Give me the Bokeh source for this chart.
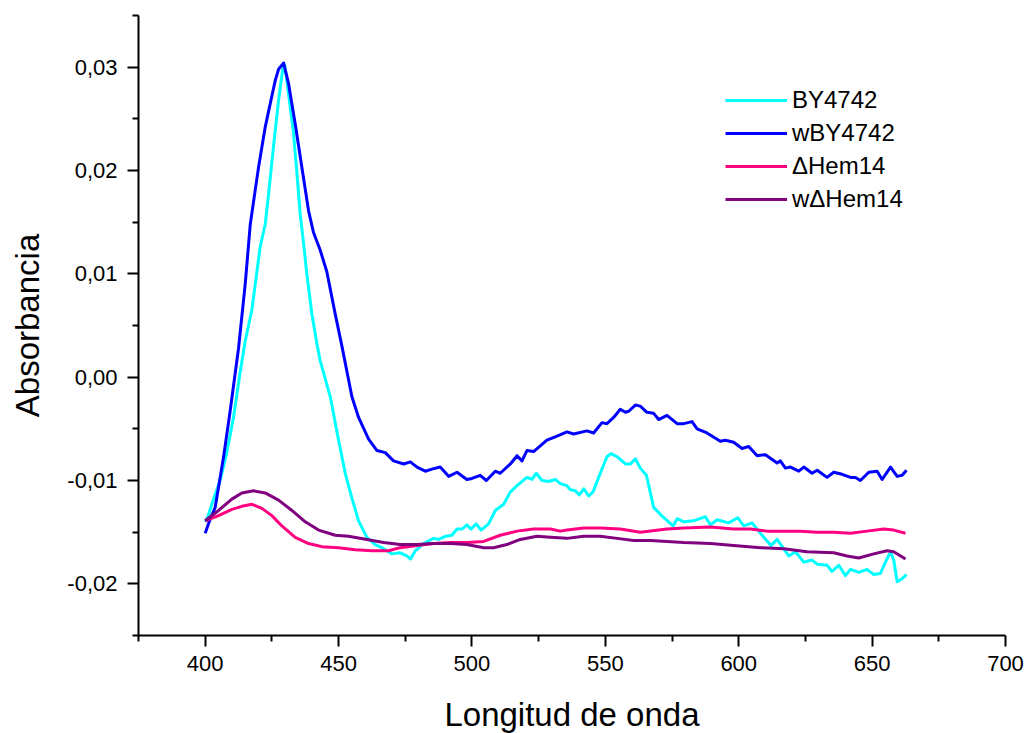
from bokeh.plotting import figure
from bokeh.models import Range1d, FixedTicker, CustomJSTickFormatter, Legend, LegendItem
from bokeh.embed import file_html
from bokeh.resources import INLINE

# ---- data ----
by_x = [400, 401, 403, 405.6, 408, 410.6, 413, 415, 417.5, 420.6, 422.5, 423.75, 425.6, 427.5, 429, 429.8,
        431.25, 433, 434.4, 435.6, 436.9, 438.1, 440, 441.9, 443.1, 446.9, 450, 452.5, 455, 457.5, 460.6,
        463.75, 466.9, 470, 473.1, 475.6, 477, 478.75, 481.9, 485.6, 487.5, 490, 492.5, 494.4, 496.25,
        498.1, 499.6, 501.6, 503.4, 506.25, 508.75, 511.9, 514.4, 516.9, 520.6, 522.5, 524.1, 526.25,
        528.75, 531.25, 533.1, 535.6, 536.9, 538.75, 540.25, 541.9, 543.75, 545.4, 548.1, 550.6, 552.1,
        554.4, 557.5, 559.4, 561.25, 563.1, 565.4, 568.1, 571.9, 575.4, 576.9, 579.4, 583.1, 587.5, 589.4,
        591.9, 596.25, 599.6, 601.9, 605, 608.75, 612.1, 614.4, 618.75, 621.25, 624.4, 627.5, 629.4, 633.1,
        635, 637.5, 640, 641.9, 645, 648.1, 650.6, 653.1, 655, 656.9, 658.1, 659.4, 661.25, 662.9]
by_y = [-0.0140, -0.0135, -0.0119, -0.0100, -0.0074, -0.0039, 0.0003, 0.0035, 0.0065, 0.0126, 0.0148, 0.0177,
        0.0223, 0.0268, 0.0297, 0.0302, 0.0274, 0.0239, 0.0197, 0.0158, 0.0129, 0.0100, 0.0061, 0.0032,
        0.0016, -0.0019, -0.0061, -0.0093, -0.0117, -0.0139, -0.0155, -0.0162, -0.0166, -0.0171, -0.0170,
        -0.0173, -0.0176, -0.0168, -0.0161, -0.0156, -0.0157, -0.0154, -0.0153, -0.0147, -0.0147, -0.0143,
        -0.0147, -0.0142, -0.0148, -0.0142, -0.0129, -0.0123, -0.0111, -0.0105, -0.0097, -0.0099, -0.0093,
        -0.0100, -0.0101, -0.0099, -0.0103, -0.0105, -0.0109, -0.0110, -0.0114, -0.0108, -0.0115, -0.0111,
        -0.0093, -0.0077, -0.0074, -0.0077, -0.0084, -0.0084, -0.0079, -0.0088, -0.0095, -0.0126, -0.0136,
        -0.0144, -0.0137, -0.0140, -0.0139, -0.0135, -0.0143, -0.0138, -0.0141, -0.0136, -0.0144, -0.0141,
        -0.0153, -0.0163, -0.0157, -0.0173, -0.0169, -0.0179, -0.0177, -0.0181, -0.0182, -0.0188, -0.0182,
        -0.0192, -0.0186, -0.0189, -0.0186, -0.0191, -0.0190, -0.0179, -0.0169, -0.0177, -0.0198, -0.0195,
        -0.0191]

wby_x = [400, 401.5, 403.75, 406.9, 409.4, 412.5, 415, 416.9, 418.75, 420, 422.5, 424.4, 426.25, 427.5, 429.4,
         431.25, 433.75, 436.25, 438.75, 440.6, 443.1, 445.6, 448.75, 451.25, 455, 457.5, 461.25, 464.4,
         467.5, 470.6, 474.4, 476.9, 479.4, 482.5, 485, 488.1, 491.25, 494.4, 498.1, 500, 503.1, 505.4,
         508.75, 510.6, 514.4, 516.9, 518.75, 520.6, 523.1, 528.1, 531.9, 535.6, 538.1, 543.1, 545.6,
         548.75, 550.6, 553.1, 555.6, 557.5, 558.75, 561.25, 563.1, 565.6, 568.1, 570, 573.1, 576.9, 579.4,
         582.5, 584.4, 588.1, 593.1, 595, 598.1, 601.25, 603.75, 606.9, 610, 614.4, 615.6, 617.5, 619.4,
         622.5, 624.4, 627.5, 629.4, 633.1, 635.6, 638.75, 641.9, 643.75, 645.6, 648.75, 651.9, 653.75,
         656.9, 659.4, 661.25, 662.9]
wby_y = [-0.0151, -0.0140, -0.0126, -0.0077, -0.0032, 0.0028, 0.0090, 0.0148, 0.0181, 0.0203, 0.0242, 0.0265,
         0.0287, 0.0298, 0.0304, 0.0284, 0.0245, 0.0203, 0.0161, 0.0140, 0.0123, 0.0102, 0.0061, 0.0030,
         -0.0019, -0.0039, -0.0060, -0.0071, -0.0073, -0.0081, -0.0084, -0.0082, -0.0087, -0.0091, -0.0089,
         -0.0087, -0.0096, -0.0092, -0.0099, -0.0098, -0.0095, -0.0100, -0.0091, -0.0093, -0.0084, -0.0076,
         -0.0081, -0.0071, -0.0072, -0.0061, -0.0057, -0.0053, -0.0055, -0.0052, -0.0054, -0.0044, -0.0045,
         -0.0039, -0.0031, -0.0034, -0.0033, -0.0027, -0.0028, -0.0034, -0.0035, -0.0041, -0.0037, -0.0045,
         -0.0045, -0.0043, -0.0050, -0.0054, -0.0062, -0.0061, -0.0063, -0.0069, -0.0067, -0.0076, -0.0075,
         -0.0083, -0.0081, -0.0088, -0.0087, -0.0091, -0.0087, -0.0093, -0.0090, -0.0097, -0.0092, -0.0094,
         -0.0097, -0.0097, -0.0100, -0.0092, -0.0091, -0.0099, -0.0087, -0.0096, -0.0095, -0.0090]

hem_x = [400, 405, 410, 413.75, 417.5, 421.25, 425, 428.75, 433.75, 438.75, 443.75, 450, 456.25, 462.5, 468.75,
         473.1, 479.4, 485.6, 491.9, 498.1, 504.4, 510.6, 516.9, 523.1, 529.4, 533.1, 535.6, 541.9, 548.1,
         555.6, 563.1, 573.1, 579.4, 589.4, 598.1, 604.4, 610.6, 616.9, 623.1, 629.4, 635.6, 641.9, 648.1,
         654.4, 658.1, 662.5]
hem_y = [-0.0139, -0.0134, -0.0128, -0.0125, -0.0123, -0.0127, -0.0134, -0.0144, -0.0155, -0.0161, -0.0164,
         -0.0165, -0.0167, -0.0168, -0.0168, -0.0165, -0.0163, -0.0161, -0.0160, -0.0160, -0.0159, -0.0153,
         -0.0149, -0.0147, -0.0147, -0.0149, -0.0148, -0.0146, -0.0146, -0.0147, -0.0150, -0.0147, -0.0146,
         -0.0145, -0.0147, -0.0147, -0.0149, -0.0149, -0.0149, -0.0150, -0.0150, -0.0151, -0.0149, -0.0147,
         -0.0148, -0.0151]

whem_x = [400, 405, 410, 413.75, 418.1, 422.5, 427.5, 432.5, 437.5, 442.5, 448.75, 453.75, 460.6, 466.9, 473.1,
          479.4, 485.6, 491.9, 498.1, 504.4, 508.1, 513.1, 518.1, 524.4, 529.4, 535.6, 541.9, 548.1, 554.4,
          560.6, 566.9, 573.1, 579.4, 589.4, 598.1, 608.1, 616.9, 625.6, 635.6, 640.6, 645, 650.6, 655.6,
          658.1, 662.5]
whem_y = [-0.0139, -0.0129, -0.0118, -0.0112, -0.0110, -0.0112, -0.0119, -0.0129, -0.0140, -0.0148, -0.0153,
          -0.0154, -0.0157, -0.0160, -0.0162, -0.0162, -0.0161, -0.0161, -0.0162, -0.0165, -0.0165, -0.0162,
          -0.0157, -0.0154, -0.0155, -0.0156, -0.0154, -0.0154, -0.0156, -0.0158, -0.0158, -0.0159, -0.0160,
          -0.0161, -0.0163, -0.0165, -0.0166, -0.0169, -0.0170, -0.0173, -0.0175, -0.0171, -0.0168, -0.0169,
          -0.0176]

series_names = ["BY4742", "wBY4742", "\u0394Hem14", "w\u0394Hem14"]
series_colors = ["#00FFFF", "#0000FF", "#FF0080", "#800080"]

x_major = [400, 450, 500, 550, 600, 650, 700]
x_minor = [375, 425, 475, 525, 575, 625, 675]
y_major = [-0.02, -0.01, 0.0, 0.01, 0.02, 0.03]
y_minor = [-0.025, -0.015, -0.005, 0.005, 0.015, 0.025, 0.035]

FONT = "Liberation Sans"

p = figure(frame_width=867, frame_height=620, output_backend="svg", toolbar_location=None,
           x_range=Range1d(375, 700), y_range=Range1d(-0.025, 0.035),
           min_border_left=138, min_border_top=15, min_border_right=20, min_border_bottom=90)
p.outline_line_color = None
p.grid.visible = False
p.background_fill_color = "white"
p.border_fill_color = "white"

renderers = []
for xs, ys, c in [(by_x, by_y, series_colors[0]), (wby_x, wby_y, series_colors[1]),
                  (hem_x, hem_y, series_colors[2]), (whem_x, whem_y, series_colors[3])]:
    renderers.append(p.line(xs, ys, line_color=c, line_width=3, line_join="round"))

p.xaxis.ticker = FixedTicker(ticks=x_major, minor_ticks=x_minor)
p.yaxis.ticker = FixedTicker(ticks=y_major, minor_ticks=y_minor)
p.yaxis.formatter = CustomJSTickFormatter(code="""
    if (Math.abs(tick) < 1e-9) { return '0,00'; }
    return tick.toFixed(2).replace('.', ',');
""")

for ax in (p.xaxis[0], p.yaxis[0]):
    ax.axis_line_width = 2
    ax.axis_line_color = "black"
    ax.major_tick_line_width = 2
    ax.minor_tick_line_width = 2
    ax.major_tick_out = 11
    ax.major_tick_in = 0
    ax.minor_tick_out = 6
    ax.minor_tick_in = 0
    ax.major_label_text_font = FONT
    ax.major_label_text_font_size = "22px"
    ax.major_label_text_color = "black"
    ax.major_label_standoff = 9
    ax.axis_label_text_font = FONT
    ax.axis_label_text_font_size = "33px"
    ax.axis_label_text_font_style = "normal"
    ax.axis_label_text_color = "black"

p.yaxis.major_label_standoff = 10
p.xaxis.axis_label = "Longitud de onda"
p.yaxis.axis_label = "Absorbancia"
p.xaxis.axis_label_standoff = 22
p.yaxis.axis_label_standoff = 18

legend = Legend(items=[LegendItem(label=n, renderers=[r]) for n, r in zip(series_names, renderers)],
                location=(587, 422), padding=0, margin=0, spacing=5,
                glyph_width=62, glyph_height=24, label_height=24, label_standoff=5,
                border_line_color=None, background_fill_alpha=0,
                label_text_font=FONT, label_text_font_size="24px", label_text_color="black")
p.add_layout(legend, "center")

open("out.html", "w").write(file_html(p, INLINE))
